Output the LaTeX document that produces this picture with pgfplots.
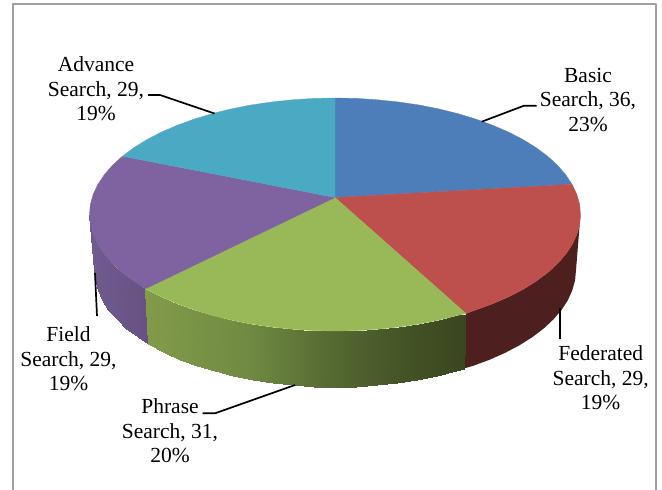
\documentclass[border=0pt]{standalone}
\usepackage{pgfplots}
\pgfplotsset{compat=1.18}
\usepackage{fontspec}
\setmainfont{Liberation Serif}
\definecolor{cbasic}{RGB}{78,126,186}
\definecolor{cfed}{RGB}{189,79,76}
\definecolor{cphrase}{RGB}{153,185,88}
\definecolor{cfield}{RGB}{127,98,160}
\definecolor{cadv}{RGB}{74,170,196}
\definecolor{cfedside}{RGB}{77,31,30}
\definecolor{cframe}{RGB}{160,160,160}
\pgfplotsset{
 colormap={fieldside}{rgb255(0pt)=(112,92,144) rgb255(100pt)=(104,80,130)},
 colormap={phraseside}{rgb255(0pt)=(130,155,74) rgb255(32pt)=(112,138,66) rgb255(58pt)=(85,105,50) rgb255(80pt)=(68,84,38) rgb255(100pt)=(58,70,30)}
}
\begin{document}
\begin{tikzpicture}
\begin{axis}[
 scale only axis, width=662pt, height=490pt,
 xmin=0, xmax=662, ymin=0, ymax=490, y dir=reverse,
 axis lines=none, clip=true, no markers,
 every axis plot/.append style={line join=round},
]
% page background, fixes the picture's size
\addplot[fill=white, draw=none] coordinates {(0,0) (662,0) (662,490) (0,490)} --cycle;
% frame
\addplot[cframe, line width=1.9pt] coordinates {(13.3,490) (13.3,4.3) (656,4.3) (656,490)};
% sides
\addplot[fill=cfedside, draw=none] coordinates {
(466,313.5) (475.8,309.9) (492.8,303.7) (508.6,296.9) (523.1,289.4) (536.1,281.3) (547.6,272.8) (557.5,263.7) (565.7,254.3) (572.1,244.7) (576.8,234.7) (579.6,224.7) (580.5,214.5)
(576,270) (575.1,280.2) (572.3,290.3) (567.8,300.3) (561.5,310.0) (553.4,319.4) (543.7,328.5) (532.4,337.1) (519.6,345.2) (505.4,352.7) (489.9,359.6) (473.2,365.8) (464,368.5)
} --cycle;
\addplot[surf, shader=interp, mesh/rows=2, point meta=x, point meta rel=per plot, colormap name=fieldside] table[row sep=crcr] {
x y\\
89.5 214.5\\ 90.4 224.7\\ 93.2 234.7\\ 97.9 244.7\\ 104.3 254.3\\ 112.5 263.7\\ 122.4 272.8\\ 133.9 281.3\\ 145.5 288.8\\
94 270\\ 94.9 280.2\\ 97.7 290.3\\ 102.2 300.3\\ 108.5 310\\ 116.6 319.4\\ 126.3 328.5\\ 137.6 337.1\\ 148 343.5\\
};
\addplot[surf, shader=interp, mesh/rows=2, point meta=x, point meta rel=per plot, colormap name=phraseside] table[row sep=crcr] {
x y\\
145.5 288.8\\ 161.4 296.9\\ 177.2 303.7\\ 194.2 309.9\\ 212.2 315.4\\ 231.2 320.1\\ 251 324\\ 271.5 327\\ 292.4 329.2\\ 313.6 330.6\\ 335 331\\ 356.4 330.6\\ 377.6 329.2\\ 398.5 327\\ 419 324\\ 438.8 320.1\\ 457.8 315.4\\ 466 313.5\\
148 343.5\\ 164.6 352.7\\ 180.1 359.6\\ 196.8 365.8\\ 214.5 371.3\\ 233.2 376\\ 252.6 379.9\\ 272.6 383\\ 293.2 385.2\\ 314 386.6\\ 335 387\\ 356 386.6\\ 376.8 385.2\\ 397.4 383\\ 417.4 379.9\\ 436.8 376\\ 455.5 371.3\\ 464 368.5\\
};
% top wedges
\addplot[fill=cbasic, draw=cbasic, line width=0.3pt] coordinates {
(335,197.5) (335,98) (356.4,98.4) (377.6,99.8) (398.5,102) (419,105) (438.8,108.9) (457.8,113.6) (475.8,119.1) (492.8,125.3) (508.6,132.1) (523.1,139.6) (536.1,147.7) (547.6,156.2) (557.5,165.3) (565.7,174.7) (572.1,184.3)
} --cycle;
\addplot[fill=cfed, draw=cfed, line width=0.3pt] coordinates {
(335,197.5) (572.1,184.3) (576.8,194.3) (579.6,204.3) (580.5,214.5) (579.6,224.7) (576.8,234.7) (572.1,244.7) (565.7,254.3) (557.5,263.7) (547.6,272.8) (536.1,281.3) (523.1,289.4) (508.6,296.9) (492.8,303.7) (475.8,309.9) (466,313.5)
} --cycle;
\addplot[fill=cphrase, draw=cphrase, line width=0.3pt] coordinates {
(335,197.5) (466,313.5) (457.8,315.4) (438.8,320.1) (419,324) (398.5,327) (377.6,329.2) (356.4,330.6) (335,331) (313.6,330.6) (292.4,329.2) (271.5,327) (251,324) (231.2,320.1) (212.2,315.4) (194.2,309.9) (177.2,303.7) (161.4,296.9) (145.5,288.8)
} --cycle;
\addplot[fill=cfield, draw=cfield, line width=0.3pt] coordinates {
(335,197.5) (145.5,288.8) (133.9,281.3) (122.4,272.8) (112.5,263.7) (104.3,254.3) (97.9,244.7) (93.2,234.7) (90.4,224.7) (89.5,214.5) (90.4,204.3) (93.2,194.3) (97.9,184.3) (104.3,174.7) (112.5,165.3) (122.4,156.2)
} --cycle;
\addplot[fill=cadv, draw=cadv, line width=0.3pt] coordinates {
(335,197.5) (122.4,156.2) (133.9,147.7) (146.9,139.6) (161.4,132.1) (177.2,125.3) (194.2,119.1) (212.2,113.6) (231.2,108.9) (251,105) (271.5,102) (292.4,99.8) (313.6,98.4) (335,98)
} --cycle;
% leader lines
\addplot[black, line width=1.7pt] coordinates {(148,95) (160,95) (214.5,113.5)};
\addplot[black, line width=1.7pt] coordinates {(536.7,105.7) (524,105.7) (481.7,121.7)};
\addplot[black, line width=1.7pt] coordinates {(560,308) (560,339)};
\addplot[black, line width=1.7pt] coordinates {(95,273) (97,316)};
\addplot[black, line width=1.7pt] coordinates {(202.7,413.3) (215,413.3) (295,385)};
% labels
\tikzset{lab/.style={align=center, inner sep=0pt, font=\fontsize{21.5}{24.5}\selectfont}}
\node[lab] at (axis cs:96,89) {Advance\\Search, 29,\\19\%};
\node[lab] at (axis cs:588,100) {Basic\\Search, 36,\\23\%};
\node[lab] at (axis cs:600.7,378) {Federated\\Search, 29,\\19\%};
\node[lab] at (axis cs:68.5,359) {Field\\Search, 29,\\19\%};
\node[lab] at (axis cs:170,431) {Phrase\\Search, 31,\\20\%};
\end{axis}
\end{tikzpicture}
\end{document}
